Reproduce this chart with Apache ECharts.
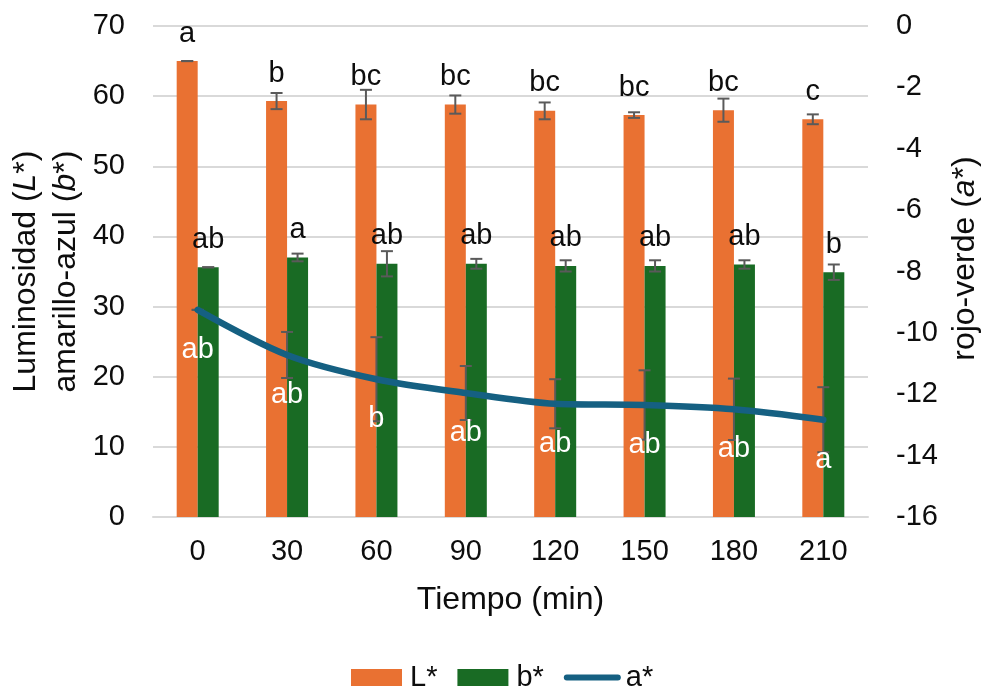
<!DOCTYPE html>
<html><head><meta charset="utf-8">
<script src="https://cdn.jsdelivr.net/npm/echarts@6/dist/echarts.min.js"></script>
<style>html,body{margin:0;padding:0;background:#fff}#c{width:987px;height:689px}</style>
</head><body><div id="c"></div>
<script>
const categories = ['0','30','60','90','120','150','180','210'];
const Lvals = [65.0, 59.3, 58.8, 58.8, 57.9, 57.3, 58.0, 56.7];
const Lerr  = [0.0, 1.15, 2.1, 1.3, 1.2, 0.4, 1.65, 0.7];
const Lletters = ['a','b','bc','bc','bc','bc','bc','c'];
const bvals = [35.6, 37.0, 36.1, 36.1, 35.8, 35.8, 36.0, 34.9];
const berr  = [0.0, 0.55, 1.8, 0.7, 0.8, 0.8, 0.6, 1.1];
const bletters = ['ab','a','ab','ab','ab','ab','ab','b'];
const avals = [-9.25, -10.72, -11.51, -11.96, -12.31, -12.35, -12.49, -12.83];
const aerr  = [0.0, 0.75, 1.37, 0.88, 0.8, 1.13, 1.0, 1.06];
const aletters = ['ab','ab','b','ab','ab','ab','ab','a'];

const FONT = 'Arial, "Liberation Sans", sans-serif';
const TXT = '#0d0d0d';
const BARW = 21;
const FS = 29;     // tick / label font size
const TFS = 32;    // axis title font size

function errSeries(vals, errs, offset, yIdx) {
  return {
    type: 'custom', yAxisIndex: yIdx, z: 5, silent: true,
    data: vals.map((v, i) => [i, v, errs[i]]),
    renderItem: function (params, api) {
      const i = api.value(0), v = api.value(1), e = api.value(2);
      const hi = api.coord([i, v + e]);
      const lo = api.coord([i, v - e]);
      const x = hi[0] + offset;
      const cap = 6;
      const st = { stroke: '#5a5a5a', lineWidth: 2 };
      return { type: 'group', children: [
        { type: 'line', shape: { x1: x, y1: hi[1], x2: x, y2: lo[1] }, style: st },
        { type: 'line', shape: { x1: x - cap, y1: hi[1], x2: x + cap, y2: hi[1] }, style: st },
        { type: 'line', shape: { x1: x - cap, y1: lo[1], x2: x + cap, y2: lo[1] }, style: st }
      ]};
    }
  };
}

const chart = echarts.init(document.getElementById('c'));
chart.setOption({
  animation: false,
  textStyle: { fontFamily: FONT },
  grid: { left: 153, right: 119, top: 26, bottom: 172, outerBoundsMode: 'none', containLabel: false },
  legend: {
    top: 658, left: 346, itemWidth: 51, itemHeight: 17, itemGap: 20,
    textStyle: { fontSize: FS, color: TXT, fontFamily: FONT, padding: [0, 0, 0, 3] },
    data: [
      { name: 'L*', icon: 'rect' },
      { name: 'b*', icon: 'rect' },
      { name: 'a*', itemStyle: { opacity: 0 }, lineStyle: { width: 6, cap: 'round', color: '#156082' } }
    ]
  },
  xAxis: {
    type: 'category', data: categories,
    name: 'Tiempo (min)', nameLocation: 'middle', nameGap: 67,
    nameTextStyle: { fontSize: TFS, color: TXT },
    axisLine: { lineStyle: { color: '#d9d9d9', width: 2 } },
    axisTick: { show: false },
    axisLabel: { fontSize: FS, color: TXT, margin: 20 }
  },
  yAxis: [
    {
      type: 'value', min: 0, max: 70, interval: 10,
      name: '{n|Luminosidad (}{i|L}{n|*)}\n{n|amarillo-azul (}{i|b}{n|*)}',
      nameLocation: 'middle', nameGap: 56,
      nameTextStyle: { rich: {
        n: { fontSize: TFS, color: TXT, fontFamily: FONT, lineHeight: 40 },
        i: { fontSize: TFS, color: TXT, fontFamily: FONT, fontStyle: 'italic', lineHeight: 40 }
      } },
      axisLabel: { fontSize: FS, color: TXT, margin: 28 },
      splitLine: { lineStyle: { color: '#d9d9d9', width: 2 } },
      axisLine: { show: false }, axisTick: { show: false }
    },
    {
      type: 'value', min: -16, max: 0, interval: 2,
      name: '{n|rojo-verde (}{i|a}{n|*)}',
      nameLocation: 'middle', nameGap: 79, nameRotate: 90,
      nameTextStyle: { padding: [0, 0, 0, 26], rich: {
        n: { fontSize: TFS, color: TXT, fontFamily: FONT },
        i: { fontSize: TFS, color: TXT, fontFamily: FONT, fontStyle: 'italic' }
      } },
      axisLabel: { fontSize: FS, color: TXT, margin: 28 },
      splitLine: { show: false },
      axisLine: { show: false }, axisTick: { show: false }
    }
  ],
  series: [
    {
      name: 'L*', type: 'bar', data: Lvals, barWidth: BARW, barGap: '0%',
      itemStyle: { color: '#e97132' },
      label: { show: true, position: 'top', distance: 13, fontSize: FS, color: TXT,
        formatter: p => Lletters[p.dataIndex] }
    },
    {
      name: 'b*', type: 'bar', data: bvals, barWidth: BARW, barGap: '0%',
      itemStyle: { color: '#196b24' },
      label: { show: true, position: 'top', distance: 13, fontSize: FS, color: TXT,
        formatter: p => bletters[p.dataIndex] }
    },
    errSeries(Lvals, Lerr, -BARW / 2, 0),
    errSeries(bvals, berr, BARW / 2, 0),
    errSeries(avals, aerr, 0, 1),
    {
      name: 'a*', type: 'line', yAxisIndex: 1, data: avals, smooth: 0.3, z: 6,
      symbol: 'circle', symbolSize: 1, showSymbol: true,
      lineStyle: { color: '#156082', width: 6.5, cap: 'round' },
      itemStyle: { color: '#156082' },
      label: { show: true, position: 'bottom', distance: 25, fontSize: FS, color: '#ffffff',
        formatter: p => aletters[p.dataIndex] }
    }
  ]
});
</script>
</body></html>
